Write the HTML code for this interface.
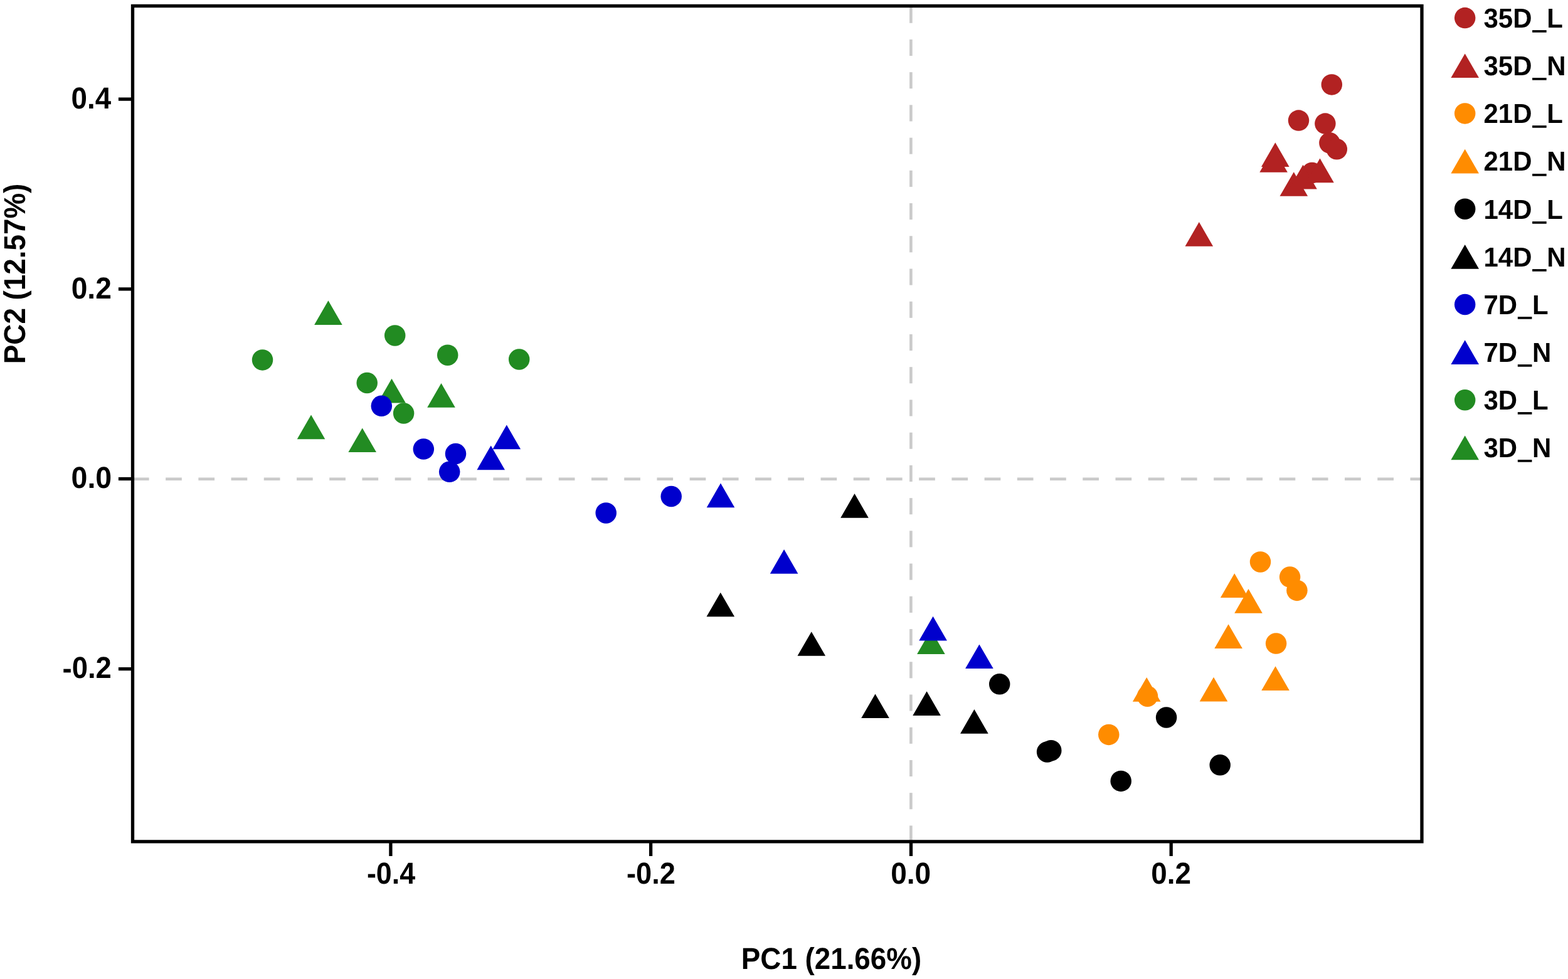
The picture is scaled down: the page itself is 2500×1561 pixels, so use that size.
<!DOCTYPE html>
<html><head><meta charset="utf-8"><title>PCA plot</title>
<style>html,body{margin:0;padding:0;background:#fff;overflow:hidden}svg{display:block}text{font-family:"Liberation Sans",Arial,Helvetica,sans-serif;font-weight:bold;fill:#000;text-rendering:geometricPrecision}</style>
</head><body>
<svg width="2500" height="1561" viewBox="0 0 2500 1561">
<rect x="0" y="0" width="2500" height="1561" fill="#fff"/>
<rect x="211.90" y="761.50" width="25.70" height="4.6" fill="#CACACA"/>
<rect x="264.12" y="761.50" width="25.70" height="4.6" fill="#CACACA"/>
<rect x="316.34" y="761.50" width="25.70" height="4.6" fill="#CACACA"/>
<rect x="368.56" y="761.50" width="25.70" height="4.6" fill="#CACACA"/>
<rect x="420.78" y="761.50" width="25.70" height="4.6" fill="#CACACA"/>
<rect x="473.00" y="761.50" width="25.70" height="4.6" fill="#CACACA"/>
<rect x="525.22" y="761.50" width="25.70" height="4.6" fill="#CACACA"/>
<rect x="577.44" y="761.50" width="25.70" height="4.6" fill="#CACACA"/>
<rect x="629.66" y="761.50" width="25.70" height="4.6" fill="#CACACA"/>
<rect x="681.88" y="761.50" width="25.70" height="4.6" fill="#CACACA"/>
<rect x="734.10" y="761.50" width="25.70" height="4.6" fill="#CACACA"/>
<rect x="786.32" y="761.50" width="25.70" height="4.6" fill="#CACACA"/>
<rect x="838.54" y="761.50" width="25.70" height="4.6" fill="#CACACA"/>
<rect x="890.76" y="761.50" width="25.70" height="4.6" fill="#CACACA"/>
<rect x="942.98" y="761.50" width="25.70" height="4.6" fill="#CACACA"/>
<rect x="995.20" y="761.50" width="25.70" height="4.6" fill="#CACACA"/>
<rect x="1047.42" y="761.50" width="25.70" height="4.6" fill="#CACACA"/>
<rect x="1099.64" y="761.50" width="25.70" height="4.6" fill="#CACACA"/>
<rect x="1151.86" y="761.50" width="25.70" height="4.6" fill="#CACACA"/>
<rect x="1204.08" y="761.50" width="25.70" height="4.6" fill="#CACACA"/>
<rect x="1256.30" y="761.50" width="25.70" height="4.6" fill="#CACACA"/>
<rect x="1308.52" y="761.50" width="25.70" height="4.6" fill="#CACACA"/>
<rect x="1360.74" y="761.50" width="25.70" height="4.6" fill="#CACACA"/>
<rect x="1412.96" y="761.50" width="25.70" height="4.6" fill="#CACACA"/>
<rect x="1465.18" y="761.50" width="25.70" height="4.6" fill="#CACACA"/>
<rect x="1517.40" y="761.50" width="25.70" height="4.6" fill="#CACACA"/>
<rect x="1569.62" y="761.50" width="25.70" height="4.6" fill="#CACACA"/>
<rect x="1621.84" y="761.50" width="25.70" height="4.6" fill="#CACACA"/>
<rect x="1674.06" y="761.50" width="25.70" height="4.6" fill="#CACACA"/>
<rect x="1726.28" y="761.50" width="25.70" height="4.6" fill="#CACACA"/>
<rect x="1778.50" y="761.50" width="25.70" height="4.6" fill="#CACACA"/>
<rect x="1830.72" y="761.50" width="25.70" height="4.6" fill="#CACACA"/>
<rect x="1882.94" y="761.50" width="25.70" height="4.6" fill="#CACACA"/>
<rect x="1935.16" y="761.50" width="25.70" height="4.6" fill="#CACACA"/>
<rect x="1987.38" y="761.50" width="25.70" height="4.6" fill="#CACACA"/>
<rect x="2039.60" y="761.50" width="25.70" height="4.6" fill="#CACACA"/>
<rect x="2091.82" y="761.50" width="25.70" height="4.6" fill="#CACACA"/>
<rect x="2144.04" y="761.50" width="25.70" height="4.6" fill="#CACACA"/>
<rect x="2196.26" y="761.50" width="25.70" height="4.6" fill="#CACACA"/>
<rect x="2248.48" y="761.50" width="18.52" height="4.6" fill="#CACACA"/>
<rect x="1450.10" y="10.67" width="4.6" height="26.10" fill="#CACACA"/>
<rect x="1450.10" y="62.90" width="4.6" height="26.10" fill="#CACACA"/>
<rect x="1450.10" y="115.13" width="4.6" height="26.10" fill="#CACACA"/>
<rect x="1450.10" y="167.36" width="4.6" height="26.10" fill="#CACACA"/>
<rect x="1450.10" y="219.59" width="4.6" height="26.10" fill="#CACACA"/>
<rect x="1450.10" y="271.82" width="4.6" height="26.10" fill="#CACACA"/>
<rect x="1450.10" y="324.05" width="4.6" height="26.10" fill="#CACACA"/>
<rect x="1450.10" y="376.28" width="4.6" height="26.10" fill="#CACACA"/>
<rect x="1450.10" y="428.51" width="4.6" height="26.10" fill="#CACACA"/>
<rect x="1450.10" y="480.74" width="4.6" height="26.10" fill="#CACACA"/>
<rect x="1450.10" y="532.97" width="4.6" height="26.10" fill="#CACACA"/>
<rect x="1450.10" y="585.20" width="4.6" height="26.10" fill="#CACACA"/>
<rect x="1450.10" y="637.43" width="4.6" height="26.10" fill="#CACACA"/>
<rect x="1450.10" y="689.66" width="4.6" height="26.10" fill="#CACACA"/>
<rect x="1450.10" y="741.89" width="4.6" height="26.10" fill="#CACACA"/>
<rect x="1450.10" y="794.12" width="4.6" height="26.10" fill="#CACACA"/>
<rect x="1450.10" y="846.35" width="4.6" height="26.10" fill="#CACACA"/>
<rect x="1450.10" y="898.58" width="4.6" height="26.10" fill="#CACACA"/>
<rect x="1450.10" y="950.81" width="4.6" height="26.10" fill="#CACACA"/>
<rect x="1450.10" y="1003.04" width="4.6" height="26.10" fill="#CACACA"/>
<rect x="1450.10" y="1055.27" width="4.6" height="26.10" fill="#CACACA"/>
<rect x="1450.10" y="1107.50" width="4.6" height="26.10" fill="#CACACA"/>
<rect x="1450.10" y="1159.73" width="4.6" height="26.10" fill="#CACACA"/>
<rect x="1450.10" y="1211.96" width="4.6" height="26.10" fill="#CACACA"/>
<rect x="1450.10" y="1264.19" width="4.6" height="26.10" fill="#CACACA"/>
<rect x="1450.10" y="1316.42" width="4.6" height="25.48" fill="#CACACA"/>
<circle cx="418.50" cy="573.90" r="16.75" fill="#228B22"/>
<circle cx="629.70" cy="534.90" r="16.75" fill="#228B22"/>
<circle cx="585.20" cy="610.50" r="16.75" fill="#228B22"/>
<circle cx="643.60" cy="659.00" r="16.75" fill="#228B22"/>
<circle cx="713.70" cy="566.20" r="16.75" fill="#228B22"/>
<circle cx="827.70" cy="573.00" r="16.75" fill="#228B22"/>
<path d="M523.40 479.25L545.70 517.95L501.10 517.95Z" fill="#228B22"/>
<path d="M624.50 603.75L646.80 642.45L602.20 642.45Z" fill="#228B22"/>
<path d="M496.00 661.50L518.30 700.20L473.70 700.20Z" fill="#228B22"/>
<path d="M577.70 682.40L600.00 721.10L555.40 721.10Z" fill="#228B22"/>
<path d="M703.50 610.95L725.80 649.65L681.20 649.65Z" fill="#228B22"/>
<path d="M1484.40 1004.25L1506.70 1042.95L1462.10 1042.95Z" fill="#228B22"/>
<circle cx="608.30" cy="647.35" r="16.75" fill="#0000CD"/>
<circle cx="675.30" cy="716.10" r="16.75" fill="#0000CD"/>
<circle cx="726.50" cy="723.50" r="16.75" fill="#0000CD"/>
<circle cx="716.70" cy="752.30" r="16.75" fill="#0000CD"/>
<circle cx="966.20" cy="817.90" r="16.75" fill="#0000CD"/>
<circle cx="1070.20" cy="791.50" r="16.75" fill="#0000CD"/>
<path d="M807.80 677.55L830.10 716.25L785.50 716.25Z" fill="#0000CD"/>
<path d="M782.70 710.45L805.00 749.15L760.40 749.15Z" fill="#0000CD"/>
<path d="M1149.00 770.55L1171.30 809.25L1126.70 809.25Z" fill="#0000CD"/>
<path d="M1250.10 876.00L1272.40 914.70L1227.80 914.70Z" fill="#0000CD"/>
<path d="M1487.60 982.70L1509.90 1021.40L1465.30 1021.40Z" fill="#0000CD"/>
<path d="M1561.40 1027.40L1583.70 1066.10L1539.10 1066.10Z" fill="#0000CD"/>
<circle cx="1593.70" cy="1090.80" r="16.75" fill="#000000"/>
<circle cx="1859.60" cy="1144.00" r="16.75" fill="#000000"/>
<circle cx="1669.60" cy="1199.00" r="16.75" fill="#000000"/>
<circle cx="1675.80" cy="1196.70" r="16.75" fill="#000000"/>
<circle cx="1787.20" cy="1245.40" r="16.75" fill="#000000"/>
<circle cx="1945.20" cy="1219.80" r="16.75" fill="#000000"/>
<path d="M1362.50 787.10L1384.80 825.80L1340.20 825.80Z" fill="#000000"/>
<path d="M1148.80 944.65L1171.10 983.35L1126.50 983.35Z" fill="#000000"/>
<path d="M1293.80 1007.15L1316.10 1045.85L1271.50 1045.85Z" fill="#000000"/>
<path d="M1395.50 1106.40L1417.80 1145.10L1373.20 1145.10Z" fill="#000000"/>
<path d="M1477.60 1102.35L1499.90 1141.05L1455.30 1141.05Z" fill="#000000"/>
<path d="M1553.40 1131.05L1575.70 1169.75L1531.10 1169.75Z" fill="#000000"/>
<circle cx="2009.50" cy="895.90" r="16.75" fill="#FF8C00"/>
<circle cx="2056.60" cy="920.10" r="16.75" fill="#FF8C00"/>
<circle cx="2067.90" cy="941.40" r="16.75" fill="#FF8C00"/>
<circle cx="2034.60" cy="1026.10" r="16.75" fill="#FF8C00"/>
<circle cx="1829.50" cy="1110.20" r="16.75" fill="#FF8C00"/>
<circle cx="1767.80" cy="1171.40" r="16.75" fill="#FF8C00"/>
<path d="M1968.20 914.30L1990.50 953.00L1945.90 953.00Z" fill="#FF8C00"/>
<path d="M1990.50 939.10L2012.80 977.80L1968.20 977.80Z" fill="#FF8C00"/>
<path d="M1958.60 995.25L1980.90 1033.95L1936.30 1033.95Z" fill="#FF8C00"/>
<path d="M2033.55 1062.30L2055.85 1101.00L2011.25 1101.00Z" fill="#FF8C00"/>
<path d="M1935.00 1079.80L1957.30 1118.50L1912.70 1118.50Z" fill="#FF8C00"/>
<path d="M1828.20 1079.95L1850.50 1118.65L1805.90 1118.65Z" fill="#FF8C00"/>
<circle cx="2123.30" cy="134.90" r="16.75" fill="#B22222"/>
<circle cx="2070.50" cy="192.10" r="16.75" fill="#B22222"/>
<circle cx="2112.90" cy="197.10" r="16.75" fill="#B22222"/>
<circle cx="2119.90" cy="227.80" r="16.75" fill="#B22222"/>
<circle cx="2131.30" cy="237.80" r="16.75" fill="#B22222"/>
<circle cx="2091.90" cy="275.55" r="16.75" fill="#B22222"/>
<path d="M2033.30 227.20L2055.60 265.90L2011.00 265.90Z" fill="#B22222"/>
<path d="M2030.60 236.00L2052.90 274.70L2008.30 274.70Z" fill="#B22222"/>
<path d="M2062.80 274.15L2085.10 312.85L2040.50 312.85Z" fill="#B22222"/>
<path d="M2077.50 262.75L2099.80 301.45L2055.20 301.45Z" fill="#B22222"/>
<path d="M2104.50 252.55L2126.80 291.25L2082.20 291.25Z" fill="#B22222"/>
<path d="M1911.80 354.05L1934.10 392.75L1889.50 392.75Z" fill="#B22222"/>
<rect x="211.5" y="9.5" width="2055.5" height="1332.4" fill="none" stroke="#000" stroke-width="5.3"/>
<line x1="188.9" y1="158.1" x2="211.5" y2="158.1" stroke="#000" stroke-width="5.3"/>
<line x1="188.9" y1="460.9" x2="211.5" y2="460.9" stroke="#000" stroke-width="5.3"/>
<line x1="188.9" y1="763.5" x2="211.5" y2="763.5" stroke="#000" stroke-width="5.3"/>
<line x1="188.9" y1="1066.6" x2="211.5" y2="1066.6" stroke="#000" stroke-width="5.3"/>
<line x1="622.9" y1="1341.9" x2="622.9" y2="1365.0" stroke="#000" stroke-width="5.3"/>
<line x1="1037.6" y1="1341.9" x2="1037.6" y2="1365.0" stroke="#000" stroke-width="5.3"/>
<line x1="1452.5" y1="1341.9" x2="1452.5" y2="1365.0" stroke="#000" stroke-width="5.3"/>
<line x1="1867.2" y1="1341.9" x2="1867.2" y2="1365.0" stroke="#000" stroke-width="5.3"/>
<text transform="translate(177.10,172.90) scale(0.948,1)" font-size="48.2" text-anchor="end">0.4</text>
<text transform="translate(177.80,475.80) scale(0.957,1)" font-size="48.2" text-anchor="end">0.2</text>
<text transform="translate(178.20,778.40) scale(0.965,1)" font-size="48.2" text-anchor="end">0.0</text>
<text transform="translate(177.80,1081.00) scale(0.942,1)" font-size="48.2" text-anchor="end"><tspan dy="0.5">-</tspan><tspan dy="-0.5">0.2</tspan></text>
<text transform="translate(623.50,1408.90) scale(0.929,1)" font-size="48.2" text-anchor="middle"><tspan dy="0.5">-</tspan><tspan dy="-0.5">0.4</tspan></text>
<text transform="translate(1037.90,1408.90) scale(0.937,1)" font-size="48.2" text-anchor="middle"><tspan dy="0.5">-</tspan><tspan dy="-0.5">0.2</tspan></text>
<text transform="translate(1452.20,1408.90) scale(0.956,1)" font-size="48.2" text-anchor="middle">0.0</text>
<text transform="translate(1867.10,1408.90) scale(0.951,1)" font-size="48.2" text-anchor="middle">0.2</text>
<text transform="translate(1325.50,1544.70) scale(0.9493,1)" font-size="48.2" text-anchor="middle">PC1 (21.66%)</text>
<text transform="translate(40.40,436.40) rotate(-90) scale(0.95,1)" font-size="48.2" text-anchor="middle">PC2 (12.57%)</text>
<circle cx="2335.70" cy="28.60" r="16.75" fill="#B22222"/>
<text transform="translate(2365.50,43.90) scale(0.958,1)" font-size="43.8">35D<tspan dy="1.2" style="font-family:'Noto Sans CJK SC','Liberation Sans',sans-serif">_</tspan><tspan dy="-1.2">L</tspan></text>
<path d="M2335.70 85.40L2358.00 124.10L2313.40 124.10Z" fill="#B22222"/>
<text transform="translate(2365.50,120.05) scale(0.958,1)" font-size="43.8">35D<tspan dy="1.2" style="font-family:'Noto Sans CJK SC','Liberation Sans',sans-serif">_</tspan><tspan dy="-1.2">N</tspan></text>
<circle cx="2335.70" cy="180.90" r="16.75" fill="#FF8C00"/>
<text transform="translate(2365.50,196.20) scale(0.958,1)" font-size="43.8">21D<tspan dy="1.2" style="font-family:'Noto Sans CJK SC','Liberation Sans',sans-serif">_</tspan><tspan dy="-1.2">L</tspan></text>
<path d="M2335.70 237.70L2358.00 276.40L2313.40 276.40Z" fill="#FF8C00"/>
<text transform="translate(2365.50,272.35) scale(0.958,1)" font-size="43.8">21D<tspan dy="1.2" style="font-family:'Noto Sans CJK SC','Liberation Sans',sans-serif">_</tspan><tspan dy="-1.2">N</tspan></text>
<circle cx="2335.70" cy="333.20" r="16.75" fill="#000000"/>
<text transform="translate(2365.50,348.50) scale(0.958,1)" font-size="43.8">14D<tspan dy="1.2" style="font-family:'Noto Sans CJK SC','Liberation Sans',sans-serif">_</tspan><tspan dy="-1.2">L</tspan></text>
<path d="M2335.70 390.00L2358.00 428.70L2313.40 428.70Z" fill="#000000"/>
<text transform="translate(2365.50,424.65) scale(0.958,1)" font-size="43.8">14D<tspan dy="1.2" style="font-family:'Noto Sans CJK SC','Liberation Sans',sans-serif">_</tspan><tspan dy="-1.2">N</tspan></text>
<circle cx="2335.70" cy="485.50" r="16.75" fill="#0000CD"/>
<text transform="translate(2365.50,500.80) scale(0.958,1)" font-size="43.8">7D<tspan dy="1.2" style="font-family:'Noto Sans CJK SC','Liberation Sans',sans-serif">_</tspan><tspan dy="-1.2">L</tspan></text>
<path d="M2335.70 542.30L2358.00 581.00L2313.40 581.00Z" fill="#0000CD"/>
<text transform="translate(2365.50,576.95) scale(0.958,1)" font-size="43.8">7D<tspan dy="1.2" style="font-family:'Noto Sans CJK SC','Liberation Sans',sans-serif">_</tspan><tspan dy="-1.2">N</tspan></text>
<circle cx="2335.70" cy="637.80" r="16.75" fill="#228B22"/>
<text transform="translate(2365.50,653.10) scale(0.958,1)" font-size="43.8">3D<tspan dy="1.2" style="font-family:'Noto Sans CJK SC','Liberation Sans',sans-serif">_</tspan><tspan dy="-1.2">L</tspan></text>
<path d="M2335.70 694.60L2358.00 733.30L2313.40 733.30Z" fill="#228B22"/>
<text transform="translate(2365.50,729.25) scale(0.958,1)" font-size="43.8">3D<tspan dy="1.2" style="font-family:'Noto Sans CJK SC','Liberation Sans',sans-serif">_</tspan><tspan dy="-1.2">N</tspan></text>
</svg>
</body></html>
